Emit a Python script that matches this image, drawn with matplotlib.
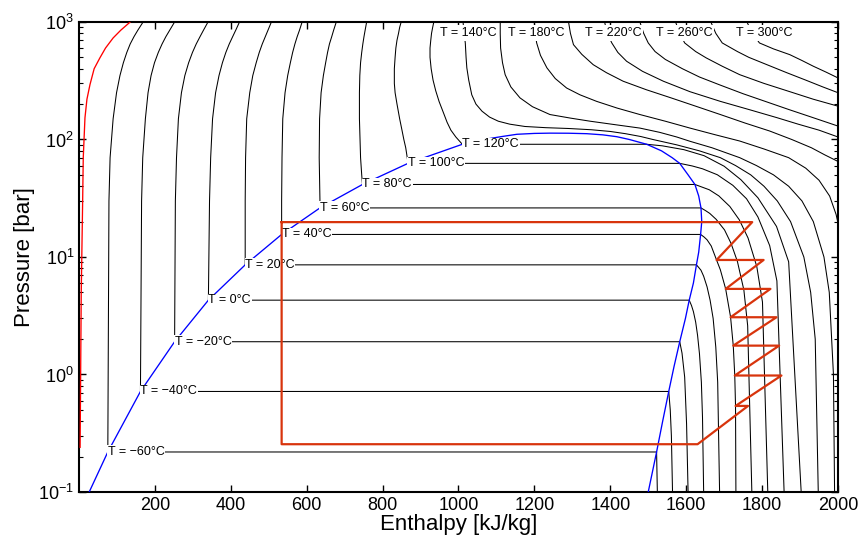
import numpy as np
import matplotlib
matplotlib.use('Agg')
import matplotlib.pyplot as plt

plt.rcParams['font.family'] = ['Liberation Sans', 'DejaVu Sans']
plt.rcParams['mathtext.fontset'] = 'custom'
plt.rcParams['mathtext.rm'] = 'Liberation Sans'
plt.rcParams['mathtext.it'] = 'Liberation Sans:italic'

# saturation dome (enthalpy kJ/kg, pressure bar)
dome_h = [27, 76, 162, 252, 341, 438, 534, 635, 747, 867, 1010, 1040, 1075, 1115, 1154, 1200, 1241,
          1290, 1338, 1380, 1417, 1450, 1475, 1496, 1535, 1563, 1583, 1605, 1623, 1633, 1639, 1641,
          1638, 1633, 1627, 1619, 1608, 1598, 1583, 1568, 1554, 1538, 1522, 1500]
dome_p = [0.1, 0.219, 0.717, 1.90, 4.29, 8.57, 15.55, 26.15, 41.4, 62.6, 91.0, 96, 101, 106, 110.7, 112.6, 113.2,
          113, 112, 109.5, 105.6, 100, 95, 91.0, 80, 70, 62.6, 50, 41.4, 33, 26.15, 20,
          15.55, 11, 8.57, 6, 4.29, 3, 1.90, 1.17, 0.717, 0.4, 0.219, 0.1]

# subcritical isotherms
temps = [-60, -40, -20, 0, 20, 40, 60, 80, 100, 120]
p_sat = [0.219, 0.717, 1.90, 4.29, 8.57, 15.55, 26.15, 41.4, 62.6, 91.0]
h_liq = [76, 162, 252, 341, 438, 534, 635, 747, 867, 1010]
h_vap = [1522, 1554, 1583, 1608, 1627, 1638, 1639, 1623, 1583, 1496]

# compressed liquid part, above saturation
p_grid = [30, 70, 150, 250, 350, 450, 550, 650, 750, 850, 1000]
liq_p = [p_grid] * 7 + [[50, 70, 150, 250, 350, 450, 550, 650, 750, 850, 1000],
                        [70, 85, 100, 125, 150, 200, 250, 300, 400, 500, 600, 700, 800, 900, 1000],
                        [95, 105, 120, 140, 170, 210, 260, 320, 400, 500, 600, 700, 800, 900, 1000]]
liq_h = [[79, 82, 90, 99, 108, 117, 126, 135, 145, 155, 169],
         [165, 168, 175, 182, 190, 199, 209, 219, 229, 239, 252],
         [254, 257, 262, 270, 279, 289, 299, 309, 319, 328, 340],
         [344, 347, 352, 360, 369, 378, 387, 396, 405, 413, 423],
         [438, 439, 442, 450, 458, 467, 475, 483, 491, 498, 507],
         [534, 535, 537, 543, 550, 557, 563, 569, 575, 581, 588],
         [635, 633, 634, 638, 644, 650, 655, 660, 666, 671, 678],
         [745, 742, 739, 739, 740, 742, 745, 748, 751, 754, 758],
         [865, 861, 856, 850, 845, 838, 833, 831, 831, 833, 835, 838, 842, 845, 849],
         [1005, 993, 980, 970, 960, 949, 940, 933, 928, 925, 925, 927, 929, 932, 935]]

# superheated vapour part, below saturation
vap_p = [[0.1],
         [0.5, 0.3, 0.1],
         [1.52, 0.95, 0.38, 0.1],
         [3.86, 3.43, 2.79, 2.15, 1.5, 0.86, 0.43, 0.1],
         [8.14, 7.71, 6.86, 5.57, 4.29, 3.0, 1.71, 0.86, 0.1],
         [14.8, 14.0, 12.4, 9.43, 7.78, 5.35, 3.07, 1.76, 0.98, 0.54, 0.1],
         [24.8, 23.5, 20.9, 17.0, 13.1, 9.15, 5.23, 2.6, 0.1],
         [39.3, 37.3, 33.1, 26.9, 20.7, 14.5, 8.3, 4.14, 0.1],
         [59.5, 56.3, 50.1, 40.7, 31.3, 21.9, 12.5, 6.26, 0.1],
         [88.3, 81.9, 72.8, 59.2, 45.5, 31.9, 18.2, 9.1, 0.1]]
vap_h = [[1524],
         [1558, 1561, 1564],
         [1589, 1596, 1601, 1605],
         [1614, 1619, 1625, 1630, 1635, 1640, 1643, 1646],
         [1633, 1639, 1646, 1655, 1663, 1671, 1678, 1683, 1688],
         [1647, 1655, 1666, 1680, 1690, 1704, 1717, 1724, 1728, 1730, 1731],
         [1651, 1662, 1679, 1701, 1718, 1735, 1752, 1762, 1773],
         [1642, 1661, 1686, 1715, 1740, 1763, 1786, 1801, 1815],
         [1616, 1643, 1682, 1723, 1759, 1789, 1820, 1839, 1858],
         [1537, 1594, 1647, 1700, 1744, 1789, 1838, 1870, 1903]]

# supercritical isotherms
sc_temps = [140, 160, 180, 200, 220, 240, 260, 280, 300]
sc_p = [[1000, 800, 660, 500, 407, 320, 240, 200, 174, 155, 143, 135, 129, 126, 124, 121, 117, 112, 106,
         100, 90, 80, 70, 60, 50, 40, 30, 20, 10, 5, 2, 0.1],
        [1000, 800, 600, 450, 356, 280, 226, 190, 163, 152, 143, 134, 125, 115, 105, 96.5, 85, 70, 60,
         50, 40, 30, 20, 10, 5, 1, 0.1],
        [1000, 800, 663, 520, 407, 330, 274, 240, 211, 185, 163, 143, 125, 110, 97, 83, 70, 57, 45, 33,
         23, 10, 0.1],
        [1000, 800, 641, 530, 433, 370, 313, 265, 226, 192, 163, 138, 118, 100, 85, 74, 65, 20, 0.1],
        [1000, 800, 663, 550, 463, 380, 313, 255, 211, 178, 153, 135, 120, 105, 50, 0.1],
        [1000, 800, 663, 560, 480, 400, 340, 290, 245, 210, 180, 155, 135, 130, 60, 0.1],
        [1000, 800, 663, 560, 494, 420, 356, 300, 257, 220, 192, 100, 0.1],
        [1000, 800, 663, 560, 500, 430, 370, 320, 280, 250, 100, 0.1],
        [1000, 800, 663, 590, 527, 470, 420, 375, 334, 100, 0.1]]
sc_h = [[1012, 1015, 1018, 1020, 1022, 1027, 1035, 1046, 1062, 1082, 1105, 1135, 1175, 1230, 1290, 1350,
         1400, 1440, 1480, 1512, 1575, 1635, 1690, 1730, 1770, 1805, 1840, 1875, 1910, 1928, 1940, 1948],
        [1110, 1110, 1111, 1116, 1123, 1138, 1162, 1195, 1241, 1295, 1347, 1410, 1478, 1530, 1575, 1610,
         1668, 1741, 1785, 1830, 1870, 1905, 1935, 1963, 1977, 1988, 1991],
        [1200, 1202, 1206, 1216, 1233, 1255, 1285, 1320, 1364, 1418, 1478, 1545, 1610, 1675, 1741, 1805,
         1870, 1915, 1950, 1978, 1995, 2020, 2036],
        [1290, 1295, 1303, 1325, 1355, 1390, 1434, 1495, 1560, 1625, 1690, 1755, 1820, 1878, 1930, 1965,
         2000, 2065, 2082],
        [1385, 1392, 1404, 1420, 1443, 1485, 1540, 1610, 1690, 1770, 1840, 1895, 1950, 2000, 2100, 2128],
        [1478, 1488, 1500, 1518, 1545, 1590, 1635, 1690, 1750, 1810, 1870, 1930, 1985, 2000, 2120, 2175],
        [1572, 1583, 1596, 1625, 1653, 1695, 1741, 1805, 1870, 1935, 2000, 2140, 2223],
        [1665, 1678, 1695, 1735, 1765, 1815, 1865, 1915, 1960, 2000, 2200, 2271],
        [1760, 1775, 1793, 1830, 1873, 1905, 1935, 1968, 2000, 2250, 2320]]
sc_label_h = [1026, 1206, 1407, 1595, 1807]
sc_label_t = [140, 180, 220, 260, 300]

# low temperature liquid line
red_h = [3, 6, 9.7, 11.3, 15.8, 21, 29, 40, 55, 70, 90, 110, 135]
red_p = [0.24, 5, 30, 70, 153, 220, 293, 400, 494, 600, 731, 850, 1000]

# multistage compression cycle with intercooling
cyc_h = [534, 534, 1630, 1763, 1730, 1851, 1728, 1845, 1724, 1838, 1717, 1822, 1704, 1804, 1680, 1774, 534]
cyc_p = [19.8, 0.255, 0.255, 0.54, 0.54, 0.98, 0.98, 1.76, 1.76, 3.07, 3.07, 5.35, 5.35, 9.43, 9.43, 19.8, 19.8]

fig = plt.figure(figsize=(8.64, 5.41), dpi=100)
ax = fig.add_axes([0.0914, 0.0906, 0.8785, 0.8688])
lw = 0.75

for i, T in enumerate(temps):
    h = liq_h[i][::-1] + [h_liq[i], h_vap[i]] + vap_h[i]
    p = liq_p[i][::-1] + [p_sat[i], p_sat[i]] + vap_p[i]
    ax.plot(h, p, color='k', lw=lw, zorder=2)
    s = 'T = %d\u00b0C' % T
    ax.text(h_liq[i], p_sat[i], s.replace('-', '\u2212'), fontsize=9, ha='left', va='center',
            zorder=5, bbox=dict(boxstyle='square,pad=0.05', fc='white', ec='none'))

for i, T in enumerate(sc_temps):
    ax.plot(sc_h[i], sc_p[i], color='k', lw=lw, zorder=2)

for hc, T in zip(sc_label_h, sc_label_t):
    ax.text(hc, 806, 'T = %d\u00b0C' % T, fontsize=9, ha='center', va='center', zorder=5,
            bbox=dict(boxstyle='square,pad=0.15', fc='white', ec='none'))

ax.plot(dome_h, dome_p, color='b', lw=0.95, zorder=3)
ax.plot(red_h, red_p, color='r', lw=0.95, zorder=3)
ax.plot(cyc_h, cyc_p, color='#d8340c', lw=1.6, zorder=6)

ax.set_yscale('log')
ax.set_xlim(0, 2000)
ax.set_ylim(0.1, 1000)
ax.set_xticks(np.arange(200, 2001, 200))
ax.tick_params(which='both', direction='in', top=True, right=True, labelsize=13)
ax.tick_params(which='major', length=5, width=1)
ax.tick_params(which='minor', length=3, width=0.8)
for sp in ax.spines.values():
    sp.set_linewidth(1.5)
ax.set_xlabel('Enthalpy [kJ/kg]', fontsize=16, labelpad=0)
ax.set_ylabel('Pressure [bar]', fontsize=16, labelpad=2)

plt.savefig('out.png', dpi=100)
plt.close()
